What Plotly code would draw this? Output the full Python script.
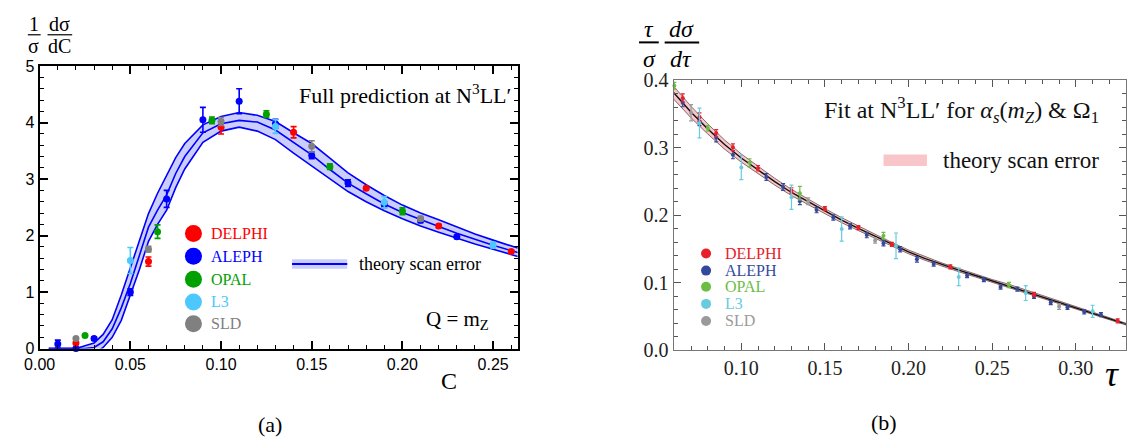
import plotly.graph_objects as go

W, H = 1128, 448

# ---------------- panel (a): C-parameter ----------------
c_grid = [0.005, 0.01, 0.015, 0.02, 0.025, 0.03, 0.035, 0.04, 0.045, 0.05, 0.055, 0.06,
          0.065, 0.07, 0.075, 0.08, 0.09, 0.10, 0.11, 0.12, 0.13, 0.14, 0.15, 0.16,
          0.17, 0.18, 0.19, 0.20, 0.21, 0.22, 0.23, 0.24, 0.25, 0.2636]
c_upper = [0.0, 0.0, 0.0, 0.0, 0.05, 0.10, 0.25, 0.51, 0.95, 1.43, 1.92, 2.39,
           2.75, 3.06, 3.38, 3.63, 3.96, 4.11, 4.18, 4.13, 4.02, 3.82, 3.63, 3.37,
           3.11, 2.90, 2.71, 2.54, 2.40, 2.28, 2.15, 2.03, 1.92, 1.78]
c_mid = [0.0, 0.0, 0.0, 0.0, 0.0, 0.02, 0.12, 0.35, 0.72, 1.15, 1.65, 2.15,
         2.45, 2.72, 3.10, 3.40, 3.82, 3.98, 4.04, 4.01, 3.87, 3.65, 3.43, 3.17,
         2.93, 2.74, 2.56, 2.41, 2.28, 2.16, 2.04, 1.93, 1.83, 1.70]
c_lower = [0.0, 0.0, 0.0, 0.0, -0.05, -0.10, 0.02, 0.20, 0.50, 0.95, 1.40, 1.90,
           2.20, 2.45, 2.85, 3.18, 3.65, 3.85, 3.92, 3.85, 3.70, 3.46, 3.23, 3.00,
           2.78, 2.60, 2.44, 2.30, 2.17, 2.06, 1.95, 1.85, 1.76, 1.63]

a_delphi_c = [0.02, 0.06, 0.10, 0.14, 0.18, 0.22, 0.26]
a_delphi_v = [0.10, 1.54, 3.92, 3.83, 2.84, 2.17, 1.72]
a_delphi_e = [0.02, 0.08, 0.12, 0.10, 0.03, 0.03, 0.02]

a_aleph_c = [0.01, 0.02, 0.03, 0.05, 0.07, 0.09, 0.11, 0.13, 0.15, 0.17, 0.19, 0.21, 0.23]
a_aleph_v = [0.08, 0.0, 0.18, 1.00, 2.65, 4.05, 4.38, 3.98, 3.42, 2.93, 2.55, 2.27, 1.98]
a_aleph_e = [0.07, 0.02, 0.03, 0.06, 0.15, 0.22, 0.22, 0.08, 0.06, 0.06, 0.05, 0.04, 0.03]

a_opal_c = [0.025, 0.065, 0.095, 0.125, 0.16, 0.20]
a_opal_v = [0.23, 2.07, 4.04, 4.15, 3.22, 2.43]
a_opal_e = [0.02, 0.12, 0.06, 0.06, 0.05, 0.06]

a_l3_c = [0.05, 0.13, 0.19, 0.25]
a_l3_v = [1.56, 3.93, 2.59, 1.83]
a_l3_e = [0.23, 0.12, 0.10, 0.05]

a_sld_c = [0.02, 0.06, 0.10, 0.15, 0.21]
a_sld_v = [0.18, 1.76, 4.02, 3.58, 2.30]
a_sld_e = [0.02, 0.05, 0.07, 0.10, 0.04]

# ---------------- panel (b): thrust ----------------
t_grid = [0.0595, 0.07, 0.08, 0.09, 0.10, 0.11, 0.12, 0.13, 0.14, 0.15, 0.16, 0.17,
          0.18, 0.19, 0.20, 0.21, 0.22, 0.23, 0.24, 0.25, 0.26, 0.27, 0.28, 0.29,
          0.30, 0.31, 0.32, 0.33]
t_central = [0.382, 0.353, 0.328, 0.305, 0.285, 0.267, 0.250, 0.234, 0.220, 0.206, 0.193, 0.181,
             0.169, 0.157, 0.146, 0.136, 0.127, 0.119, 0.111, 0.103, 0.096, 0.088, 0.080, 0.072,
             0.064, 0.056, 0.048, 0.039]
t_halfwidth = [0.0095, 0.0085, 0.0075, 0.0068, 0.006, 0.0055, 0.005, 0.0046, 0.0042, 0.004,
               0.0037, 0.0034, 0.0032, 0.003, 0.0028, 0.0026, 0.0025, 0.0024, 0.0022, 0.0021,
               0.002, 0.0019, 0.0018, 0.0017, 0.0016, 0.0015, 0.0014, 0.0013]

b_delphi_t = [0.065, 0.075, 0.085, 0.095, 0.11, 0.13, 0.15, 0.17, 0.19, 0.225, 0.275, 0.325]
b_delphi_v = [0.374, 0.346, 0.322, 0.301, 0.270, 0.237, 0.210, 0.182, 0.157, 0.124, 0.083, 0.044]
b_delphi_e = [0.006, 0.006, 0.005, 0.005, 0.004, 0.004, 0.003, 0.003, 0.003, 0.003, 0.003, 0.003]

b_aleph_t = [0.065, 0.075, 0.085, 0.095, 0.115, 0.125, 0.135, 0.145, 0.155, 0.165, 0.175, 0.185,
             0.195, 0.205, 0.215, 0.235, 0.245, 0.255, 0.265, 0.275, 0.285, 0.295, 0.305, 0.315]
b_aleph_v = [0.367, 0.339, 0.315, 0.290, 0.257, 0.242, 0.221, 0.208, 0.197, 0.184, 0.171, 0.159,
             0.150, 0.135, 0.128, 0.111, 0.105, 0.094, 0.091, 0.080, 0.071, 0.064, 0.057, 0.053]
b_aleph_e = [0.006, 0.006, 0.006, 0.006, 0.005, 0.005, 0.005, 0.004, 0.004, 0.004, 0.004, 0.004,
             0.004, 0.004, 0.003, 0.003, 0.003, 0.003, 0.003, 0.003, 0.003, 0.003, 0.003, 0.003]

b_opal_t = [0.06, 0.08, 0.105, 0.135, 0.185, 0.26]
b_opal_v = [0.392, 0.329, 0.278, 0.233, 0.170, 0.097]
b_opal_e = [0.005, 0.004, 0.006, 0.010, 0.005, 0.004]

b_l3_t = [0.075, 0.10, 0.13, 0.16, 0.1925, 0.23, 0.27, 0.31]
b_l3_v = [0.337, 0.271, 0.227, 0.180, 0.155, 0.109, 0.085, 0.058]
b_l3_e = [0.022, 0.018, 0.018, 0.018, 0.019, 0.013, 0.011, 0.009]

b_sld_t = [0.07, 0.14, 0.18, 0.29]
b_sld_v = [0.352, 0.221, 0.163, 0.065]
b_sld_e = [0.012, 0.005, 0.004, 0.004]

experiments = ["DELPHI", "ALEPH", "OPAL", "L3", "SLD"]
colors_a = {"DELPHI": "#ff0000", "ALEPH": "#0000ff", "OPAL": "#00a000",
            "L3": "#4dc8ff", "SLD": "#808080"}
colors_b = {"DELPHI": "#e8202a", "ALEPH": "#34499c", "OPAL": "#6cbd45",
            "L3": "#68cbdf", "SLD": "#9a9a9a"}


def px(x):
    return x / W


def py(y):
    return 1 - y / H


SERIF = "Liberation Serif"
SANS = "Liberation Sans"

fig = go.Figure()

# theory band, panel (a)
band_blue = "#0000ff"
fig.add_trace(go.Scatter(x=c_grid, y=c_upper, mode="lines", line=dict(color=band_blue, width=1.6),
                         xaxis="x", yaxis="y", hoverinfo="skip"))
fig.add_trace(go.Scatter(x=c_grid, y=c_lower, mode="lines", line=dict(color=band_blue, width=1.6),
                         fill="tonexty", fillcolor="rgba(70,80,240,0.28)",
                         xaxis="x", yaxis="y", hoverinfo="skip"))
fig.add_trace(go.Scatter(x=c_grid, y=c_mid, mode="lines", line=dict(color=band_blue, width=1.6),
                         xaxis="x", yaxis="y", hoverinfo="skip"))

a_sets = {
    "ALEPH": (a_aleph_c, a_aleph_v, a_aleph_e),
    "DELPHI": (a_delphi_c, a_delphi_v, a_delphi_e),
    "OPAL": (a_opal_c, a_opal_v, a_opal_e),
    "SLD": (a_sld_c, a_sld_v, a_sld_e),
    "L3": (a_l3_c, a_l3_v, a_l3_e),
}
for name, (xs, ys, es) in a_sets.items():
    col = colors_a[name]
    fig.add_trace(go.Scatter(
        x=xs, y=ys, mode="markers", xaxis="x", yaxis="y",
        marker=dict(color=col, size=7),
        error_y=dict(type="data", array=es, visible=True, color=col, thickness=1.6, width=3),
        cliponaxis=False))

# theory band, panel (b)
t_hi = [c + h for c, h in zip(t_central, t_halfwidth)]
t_lo = [c - h for c, h in zip(t_central, t_halfwidth)]
fig.add_trace(go.Scatter(x=t_grid, y=t_hi, mode="lines", line=dict(color="#6a4a4a", width=0.8),
                         xaxis="x2", yaxis="y2", hoverinfo="skip"))
fig.add_trace(go.Scatter(x=t_grid, y=t_lo, mode="lines", line=dict(color="#6a4a4a", width=0.8),
                         fill="tonexty", fillcolor="rgba(240,130,140,0.45)",
                         xaxis="x2", yaxis="y2", hoverinfo="skip"))
fig.add_trace(go.Scatter(x=t_grid, y=t_central, mode="lines", line=dict(color="#111111", width=1.4),
                         xaxis="x2", yaxis="y2", hoverinfo="skip"))

b_sets = {
    "ALEPH": (b_aleph_t, b_aleph_v, b_aleph_e),
    "DELPHI": (b_delphi_t, b_delphi_v, b_delphi_e),
    "OPAL": (b_opal_t, b_opal_v, b_opal_e),
    "SLD": (b_sld_t, b_sld_v, b_sld_e),
    "L3": (b_l3_t, b_l3_v, b_l3_e),
}
for name, (xs, ys, es) in b_sets.items():
    col = colors_b[name]
    fig.add_trace(go.Scatter(
        x=xs, y=ys, mode="markers", xaxis="x2", yaxis="y2",
        marker=dict(color=col, size=4),
        error_y=dict(type="data", array=es, visible=True, color=col, thickness=1.2, width=2),
        cliponaxis=False))

# axes
ax_a = dict(showline=True, linecolor="black", linewidth=2, mirror="allticks",
            ticks="inside", tickcolor="black", tickwidth=1.5, ticklen=8,
            showgrid=False, zeroline=False,
            tickfont=dict(family=SANS, size=16, color="black"))
ax_b = dict(showline=True, linecolor="#777777", linewidth=1, mirror="allticks",
            ticks="inside", tickcolor="#555555", tickwidth=1, ticklen=7,
            showgrid=False, zeroline=False,
            tickfont=dict(family=SERIF, size=20, color="#222222"))

fig.update_layout(
    width=W, height=H,
    margin=dict(l=0, r=0, t=0, b=0),
    paper_bgcolor="white", plot_bgcolor="white",
    showlegend=False,
    xaxis=dict(ax_a, domain=[px(24), px(509)], range=[0, 0.2636], anchor="y",
               tick0=0, dtick=0.05, tickformat=".2f",
               minor=dict(dtick=0.01, ticklen=4, ticks="inside", tickcolor="black", tickwidth=1.2)),
    yaxis=dict(ax_a, domain=[py(355), py(58)], range=[0, 5], anchor="x",
               tick0=0, dtick=1,
               minor=dict(dtick=0.2, ticklen=4, ticks="inside", tickcolor="black", tickwidth=1.2)),
    xaxis2=dict(ax_b, domain=[px(667), px(1126)], range=[0.0595, 0.33], anchor="y2",
                tick0=0, dtick=0.05, tickformat=".2f",
                minor=dict(dtick=0.01, ticklen=4, ticks="inside", tickcolor="#555555")),
    yaxis2=dict(ax_b, domain=[py(357), py(73)], range=[0, 0.4], anchor="x2",
                tick0=0, dtick=0.1, tickformat=".1f",
                minor=dict(dtick=0.02, ticklen=4, ticks="inside", tickcolor="#555555")),
)

ann = []
shapes = []


def text(x, y, s, size, color="black", family=SERIF, xanchor="center", italic=False):
    ann.append(dict(x=px(x), y=py(y), xref="paper", yref="paper", text=s, showarrow=False,
                    xanchor=xanchor, yanchor="middle", borderpad=0,
                    font=dict(family=family, size=size, color=color,
                              style="italic" if italic else "normal")))


def hbar(x0, x1, y, color="black", width=1.2):
    shapes.append(dict(type="line", xref="paper", yref="paper", x0=px(x0), x1=px(x1),
                       y0=py(y), y1=py(y), line=dict(color=color, width=width)))


def dot(x, y, r, color):
    shapes.append(dict(type="circle", xref="paper", yref="paper", xsizemode="pixel",
                       ysizemode="pixel", xanchor=px(x), yanchor=py(y),
                       x0=-r, x1=r, y0=-r, y1=r, fillcolor=color, line=dict(width=0)))


# panel (a) y title: (1/sigma) dsigma/dC
text(18, 14, "1", 20)
hbar(12, 25, 25)
text(18, 37, "σ", 20)
text(44.5, 14, "dσ", 20)
hbar(32, 57, 25)
text(44.5, 37, "dC", 20)
text(439, 389, "C", 24)
text(258, 435, "(a)", 22)
text(503, 87, "Full prediction at N<sup>3</sup>LL′", 22, xanchor="right")
text(481, 325, "Q = m<sub>Z</sub>", 21, xanchor="right")

# panel (a) legend
leg_a_y = [234, 258, 282, 306, 329]
for name, yy in zip(experiments, leg_a_y):
    dot(180, yy, 8.5, colors_a[name])
    text(197, yy, name, 16, color=colors_a[name], xanchor="left")
shapes.append(dict(type="rect", xref="paper", yref="paper", x0=px(280), x1=px(336),
                   y0=py(271), y1=py(261), fillcolor="rgba(70,80,240,0.28)", line=dict(width=0)))
hbar(280, 336, 266, color="#0000ff", width=2)
text(347, 266, "theory scan error", 18, xanchor="left")

# panel (b) y title: (tau/sigma) dsigma/dtau
text(642, 19, "τ", 24, italic=True)
hbar(632, 652, 33, width=2)
text(643, 50, "σ", 24, italic=True)
text(675, 19, "dσ", 24, italic=True)
hbar(658, 693, 33, width=2)
text(675, 50, "dτ", 24, italic=True)
text(1112, 382, "τ", 36, italic=True)
text(880, 433, "(b)", 22)
text(1100, 104,
     "Fit at N<sup>3</sup>LL′ for <i>α</i><sub><i>s</i></sub>(<i>m</i><sub><i>Z</i></sub>) &amp; Ω<sub>1</sub>",
     24, color="#111111", xanchor="right")

# panel (b) legend
leg_b_y = [255, 273, 290, 308, 326]
for name, yy in zip(experiments, leg_b_y):
    dot(700, yy, 5, colors_b[name])
    text(718, yy, name, 16, color=colors_b[name], xanchor="left")
shapes.append(dict(type="rect", xref="paper", yref="paper", x0=px(880), x1=px(924),
                   y0=py(163), y1=py(151), fillcolor="#f8c6c8", line=dict(width=0)))
text(939, 157, "theory scan error", 23, color="#111111", xanchor="left")

fig.update_layout(annotations=ann, shapes=shapes)
fig.write_html("out.html")
